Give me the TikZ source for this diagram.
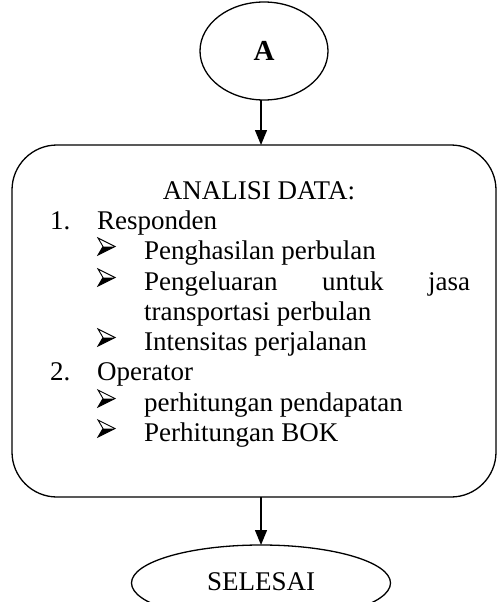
\documentclass[tikz,border=0pt]{standalone}
\usepackage{fontspec}
\setmainfont{Liberation Serif}
\usetikzlibrary{shapes.geometric,arrows.meta}
\newcommand\abul[1]{%
  \begin{scope}[shift={(#1)}]
    \fill[black] (5,8.5) -- (17,8.5) -- (0,17) -- cycle;
    \draw[line width=0.9pt,line join=miter] (0,0) -- (17,8.5) -- (0,17) -- (5,8.5) -- cycle;
  \end{scope}}
\begin{document}
\begin{tikzpicture}[x=1pt,y=-1pt,
  line/.style={line width=1.3pt},
  flow/.style={line width=1.3pt,-{Triangle[length=15pt,width=12pt]}},
  txt/.style={anchor=base west,inner sep=0pt,font=\fontsize{27}{30}\selectfont}]
\useasboundingbox (0,0) rectangle (497,602);
\clip (0,0) rectangle (497,602);
\node[line,draw,ellipse,minimum width=128pt,minimum height=98pt,inner sep=0pt,font=\fontsize{29}{30}\selectfont\bfseries] (a) at (264,51) {A};
\node[line,draw,rectangle,rounded corners=45pt,minimum width=484pt,minimum height=352pt,inner sep=0pt] (box) at (254,321) {};
\node[line,draw,ellipse,minimum width=259pt,minimum height=76pt,inner sep=0pt] (end) at (261,583) {};
\node[inner sep=0pt,font=\fontsize{27}{30}\selectfont] (endt) at (261,582) {SELESAI};
\draw[flow] (261,100) coordinate (a1) -- (261,145) coordinate (b1);
\draw[flow] (261,497) coordinate (a2) -- (261,545) coordinate (b2);
\node[txt,anchor=base] (t0) at (259,199) {ANALISI DATA:};
\node[txt] (n1) at (50,229) {1.};
\node[txt] (t1) at (97,229) {Responden};
\abul{98,238}
\node[txt] (t11) at (144,259) {Penghasilan perbulan};
\abul{98,269}
\node[txt] (t12) at (144,290) {\hbox to 326pt{Pengeluaran\hfill untuk\hfill jasa}};
\node[txt] (t12b) at (144,320) {transportasi perbulan};
\abul{98,329}
\node[txt] (t13) at (144,350) {Intensitas perjalanan};
\node[txt] (n2) at (50,380) {2.};
\node[txt] (t2) at (97,380) {Operator};
\abul{98,390}
\node[txt] (t21) at (144,411) {perhitungan pendapatan};
\abul{98,420}
\node[txt] (t22) at (144,441) {Perhitungan BOK};
\end{tikzpicture}
\end{document}
